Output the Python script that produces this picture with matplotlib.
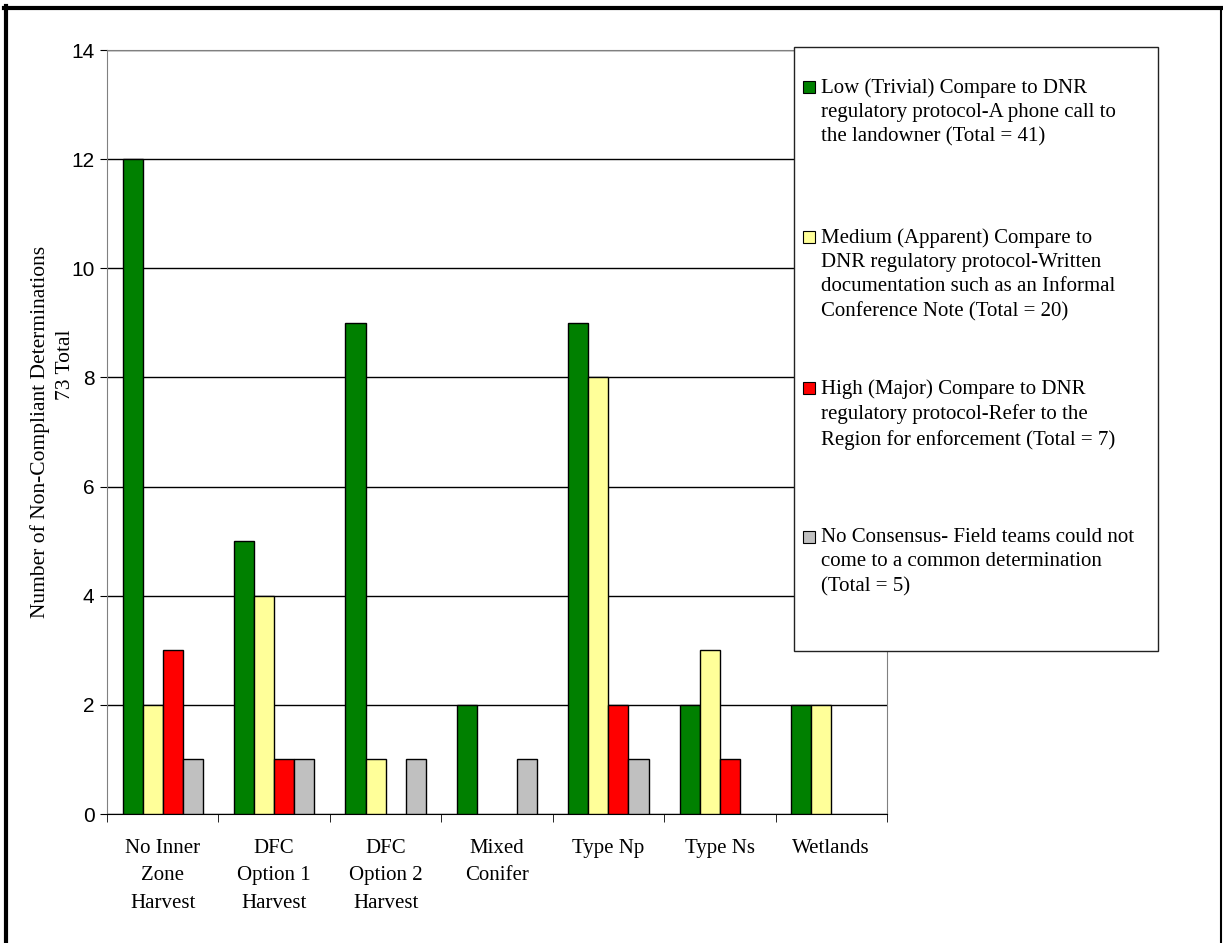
import matplotlib.pyplot as plt
import numpy as np
from matplotlib.patches import Rectangle
from matplotlib.lines import Line2D

# Non-compliant determinations by prescription type
categories = ['No Inner\nZone\nHarvest', 'DFC\nOption 1\nHarvest', 'DFC\nOption 2\nHarvest',
              'Mixed\nConifer', 'Type Np', 'Type Ns', 'Wetlands']
low = [12, 5, 9, 2, 9, 2, 2]
medium = [2, 4, 1, 0, 8, 3, 2]
high = [3, 1, 0, 0, 2, 1, 0]
no_consensus = [1, 1, 1, 1, 1, 0, 0]

series_labels = [
    'Low (Trivial) Compare to DNR\nregulatory protocol-A phone call to\nthe landowner (Total = 41)',
    'Medium (Apparent) Compare to\nDNR regulatory protocol-Written\ndocumentation such as an Informal\nConference Note (Total = 20)',
    'High (Major) Compare to DNR\nregulatory protocol-Refer to the\nRegion for enforcement (Total = 7)',
    'No Consensus- Field teams could not\ncome to a common determination\n(Total = 5)',
]
colors = ['#008000', '#FFFF99', '#FF0000', '#C0C0C0']
ylabel = 'Number of Non-Compliant Determinations'
total_note = '73 Total'

W, H = 1223, 943
fig = plt.figure(figsize=(W / 100, H / 100), dpi=100)
ax = fig.add_axes([107 / W, 1 - 814 / H, 780 / W, 764 / H])

serif = 'Liberation Serif'
sans = 'Liberation Sans'

x = np.arange(len(categories))
bw = 0.18
for i, vals in enumerate([low, medium, high, no_consensus]):
    vals = np.array(vals, dtype=float)
    vals[vals == 0] = np.nan
    ax.bar(x + (i - 1.5) * bw, vals, bw, color=colors[i], edgecolor='black',
           linewidth=1.0, zorder=3)

ax.set_xlim(-0.5, len(categories) - 0.5)
ax.set_ylim(0, 14)
ax.set_yticks(range(0, 15, 2))
ax.yaxis.grid(True, color='black', linewidth=1.0, zorder=0)
ax.set_axisbelow(True)

ax.set_xticks(x)
ax.set_xticklabels(categories, fontfamily=serif, fontsize=15, linespacing=1.6)
ax.set_xticks(np.arange(len(categories) + 1) - 0.5, minor=True)
ax.tick_params(axis='x', which='major', length=0, pad=18)
ax.tick_params(axis='x', which='minor', length=6, color='black')
ax.tick_params(axis='y', length=5, labelsize=15, pad=4, color='black')
for lbl in ax.get_yticklabels():
    lbl.set_fontfamily(sans)

for side in ['left', 'right', 'top']:
    ax.spines[side].set_color('#808080')
ax.spines['bottom'].set_color('black')

ax.set_ylabel(ylabel, fontfamily=serif, fontsize=15.5, labelpad=15)

# legend box drawn in figure pixels
def fx(px):
    return px / W

def fy(py):
    return 1 - py / H

fig.text(fx(66), fy(365), total_note, fontfamily=serif, fontsize=15.5,
         rotation=90, ha='center', va='center')

fig.add_artist(Rectangle((fx(794), fy(651)), fx(1158) - fx(794), fy(47) - fy(651),
                         transform=fig.transFigure, facecolor='white',
                         edgecolor='#222222', linewidth=1.0, zorder=5))
entry_y = [87, 237, 388, 537]
for label, col, ey in zip(series_labels, colors, entry_y):
    fig.add_artist(Rectangle((fx(803), fy(ey + 6)), fx(815) - fx(803), fy(ey - 6) - fy(ey + 6),
                             transform=fig.transFigure, facecolor=col,
                             edgecolor='black', linewidth=0.8, zorder=6))
    fig.text(fx(821), fy(ey - 9), label, fontfamily=serif, fontsize=15,
             va='top', ha='left', linespacing=1.38, zorder=6)

# outer frame
fig.add_artist(Line2D([fx(6), fx(6)], [0, fy(6)], transform=fig.transFigure,
                      color='black', linewidth=3.0))
fig.add_artist(Line2D([fx(4), fx(1222)], [fy(8), fy(8)], transform=fig.transFigure,
                      color='black', linewidth=3.0))
fig.add_artist(Line2D([fx(1221), fx(1221)], [0, fy(8)], transform=fig.transFigure,
                      color='black', linewidth=1.5))

fig.savefig('out.png', dpi=100)
